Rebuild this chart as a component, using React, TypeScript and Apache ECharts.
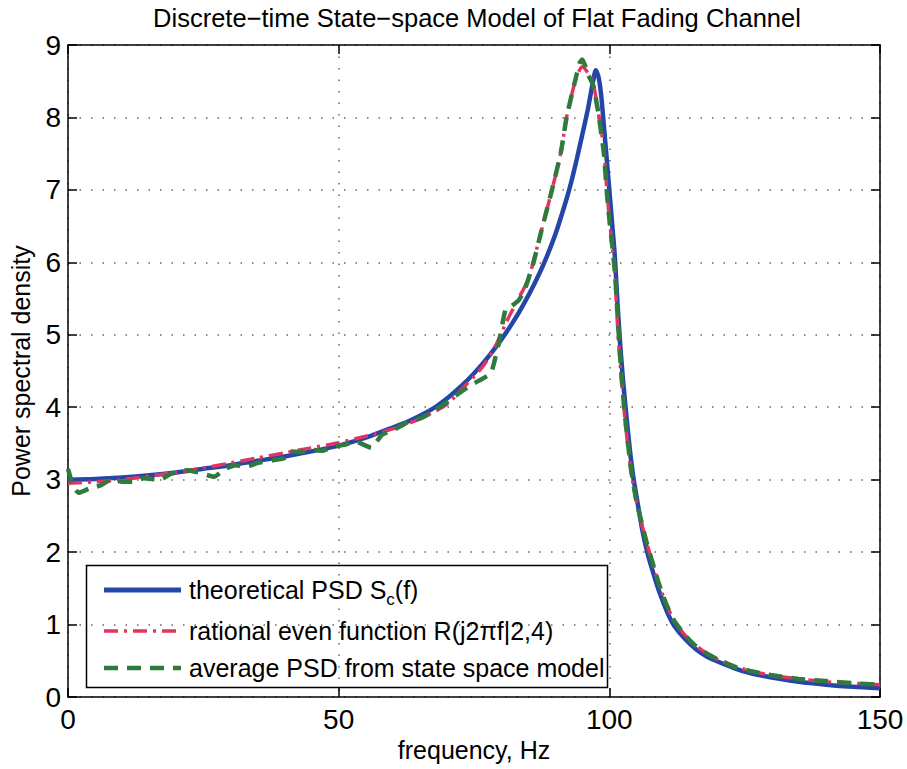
import React, { useEffect, useRef } from "react";
import * as echarts from "echarts";

const FONT = '"Liberation Sans", Arial, Helvetica, sans-serif';

const titleText = "Discrete\u2212time State\u2212space Model of Flat Fading Channel";
const xAxisLabel = "frequency, Hz";
const yAxisLabel = "Power spectral density";
const legendLabels = [
  "theoretical PSD S",
  "rational even function R(j2\u03c0f|2,4)",
  "average PSD from state space model",
];

const xMin = 0;
const xMax = 150;
const xStep = 50;
const yMin = 0;
const yMax = 9;
const yStep = 1;

// theoretical PSD S_c(f)
const blueFreq = [0, 5, 10, 15, 20, 25, 30, 35, 40, 45, 50, 55, 60, 63, 66, 68, 70, 72, 74, 76, 78, 80, 82, 84, 86, 88, 90, 92, 93, 94, 95, 96, 96.5, 97, 97.5, 98, 98.5, 99, 99.5, 100, 100.5, 101, 101.5, 102, 102.5, 103, 103.5, 104, 104.5, 105, 106, 107, 108, 109, 110, 111, 112, 114, 116, 118, 120, 123, 126, 130, 135, 140, 145, 150];
const bluePsd = [3.0, 3.01, 3.03, 3.06, 3.1, 3.15, 3.2, 3.26, 3.32, 3.39, 3.47, 3.58, 3.72, 3.81, 3.92, 4.01, 4.12, 4.25, 4.39, 4.55, 4.73, 4.93, 5.15, 5.4, 5.68, 6.0, 6.38, 6.85, 7.12, 7.43, 7.76, 8.1, 8.3, 8.5, 8.65, 8.56, 8.3, 7.88, 7.44, 7.0, 6.55, 6.1, 5.45, 4.87, 4.4, 4.0, 3.62, 3.28, 3.0, 2.78, 2.34, 2.0, 1.74, 1.5, 1.3, 1.12, 0.98, 0.8, 0.66, 0.56, 0.49, 0.4, 0.33, 0.27, 0.21, 0.17, 0.14, 0.12];

// rational even function R(j2πf|2,4)
const redFreq = [0, 5, 10, 15, 20, 25, 30, 35, 40, 45, 50, 55, 60, 65, 70, 73, 75, 77, 79, 81, 83, 85, 86, 87.5, 89.4, 91, 92.1, 93, 94, 95, 96, 97, 98, 99, 99.5, 100, 100.5, 101, 101.5, 102, 102.5, 103, 103.5, 104, 105, 106, 107, 108, 109, 110, 111, 112, 114, 116, 118, 120, 123, 126, 130, 135, 140, 145, 150];
const redPsd = [2.95, 2.97, 3.0, 3.05, 3.1, 3.16, 3.23, 3.3, 3.37, 3.44, 3.51, 3.6, 3.7, 3.84, 4.04, 4.27, 4.42, 4.6, 4.85, 5.18, 5.47, 5.76, 6.02, 6.45, 7.0, 7.5, 8.0, 8.3, 8.57, 8.7, 8.62, 8.48, 8.05, 7.55, 7.05, 6.6, 6.25, 5.85, 5.15, 4.6, 4.15, 3.75, 3.42, 3.12, 2.7, 2.38, 2.1, 1.85, 1.6, 1.38, 1.2, 1.05, 0.85, 0.71, 0.6, 0.52, 0.43, 0.36, 0.3, 0.25, 0.21, 0.19, 0.17];

// average PSD from state space model
const greenFreq = [0, 1, 2, 4, 6, 8, 10, 12, 14, 17, 19, 22, 24, 27, 29, 31, 33, 35, 38, 40, 41, 43, 45, 47, 49, 51, 53, 55, 56, 58, 60, 62.4, 65.5, 68, 69.8, 72, 74.1, 76, 78.1, 79, 79.6, 80.8, 82, 83.3, 84.5, 86, 87.5, 89.4, 91, 92.1, 93.5, 94.5, 95, 95.5, 96, 97, 98, 99, 99.5, 100, 101, 101.5, 102, 102.5, 103, 104, 105, 106, 107, 108, 109, 110, 111, 112, 114, 116, 118, 120, 123, 126, 130, 135, 140, 145, 150];
const greenPsd = [3.15, 2.9, 2.82, 2.88, 2.92, 3.0, 2.97, 2.97, 3.02, 3.0, 3.08, 3.13, 3.1, 3.04, 3.15, 3.2, 3.18, 3.23, 3.27, 3.3, 3.39, 3.38, 3.41, 3.4, 3.46, 3.48, 3.53, 3.47, 3.44, 3.62, 3.68, 3.78, 3.86, 3.97, 4.06, 4.18, 4.29, 4.37, 4.47, 4.7, 4.89, 5.34, 5.4, 5.48, 5.65, 6.0, 6.45, 7.0, 7.5, 8.0, 8.45, 8.75, 8.8, 8.72, 8.6, 8.45, 8.05, 7.5, 7.0, 6.6, 5.9, 5.3, 4.7, 4.2, 3.8, 3.15, 2.7, 2.4, 2.1, 1.85, 1.6, 1.38, 1.2, 1.05, 0.85, 0.7, 0.6, 0.52, 0.42, 0.36, 0.3, 0.25, 0.22, 0.19, 0.17];

const BLUE = "#2446a8";
const RED = "#e0355f";
const GREEN = "#2f7a3c";

const zip = (xs: number[], ys: number[]) => xs.map((x, i) => [x, ys[i]]);

function measure(text: string, size: number): number {
  const ctx = document.createElement("canvas").getContext("2d");
  if (!ctx) return text.length * size * 0.5;
  ctx.font = `${size}px "Liberation Sans", Arial, sans-serif`;
  return ctx.measureText(text).width;
}

export default function App() {
  const ref = useRef<HTMLDivElement>(null);
  useEffect(() => {
    if (!ref.current) return;
    const chart = echarts.init(ref.current, null, { renderer: "svg" });

    const axisLine = { show: true, onZero: false, lineStyle: { color: "#000", width: 1.5 } };
    const axisTick = { show: true, inside: true, length: 9, lineStyle: { color: "#000", width: 1.5 } };
    const gridLine = { show: true, lineStyle: { type: [1.5, 10] as any, color: "#666", width: 1.5 } };
    const tickFont = { fontSize: 28, color: "#000", fontFamily: FONT };
    const nameFont = { fontSize: 25, color: "#000", fontFamily: FONT };

    // legend layout
    const lgLeft = 86.5;
    const lgTop = 565.5;
    const lgW = 521;
    const lgH = 122;
    const rows = [590, 631, 668];
    const lineX1 = 104;
    const lineX2 = 181;
    const textX = 189;
    const legendFont = 25;
    const subW = measure(legendLabels[0], legendFont);
    const cW = measure("c", 17);

    const textStyle = (text: string, x: number, y: number, size: number, align = "left") => ({
      text,
      x,
      y,
      fontSize: size,
      fontFamily: FONT,
      fill: "#000",
      align,
      verticalAlign: "middle",
    });

    const option: any = {
      animation: false,
      backgroundColor: "#fff",
      grid: { left: 68, right: 27, top: 45, bottom: 72, containLabel: false },
      xAxis: [
        {
          type: "value",
          min: xMin,
          max: xMax,
          interval: xStep,
          position: "bottom",
          axisLine,
          axisTick,
          axisLabel: { ...tickFont, margin: 8 },
          splitLine: gridLine,
          name: xAxisLabel,
          nameLocation: "middle",
          nameGap: 38,
          nameTextStyle: nameFont,
        },
        {
          type: "value",
          min: xMin,
          max: xMax,
          interval: xStep,
          position: "top",
          axisLine,
          axisTick,
          axisLabel: { show: false },
          splitLine: { show: false },
        },
      ],
      yAxis: [
        {
          type: "value",
          min: yMin,
          max: yMax,
          interval: yStep,
          position: "left",
          axisLine,
          axisTick,
          axisLabel: { ...tickFont, margin: 7 },
          splitLine: gridLine,
          name: yAxisLabel,
          nameLocation: "middle",
          nameGap: 35,
          nameTextStyle: nameFont,
        },
        {
          type: "value",
          min: yMin,
          max: yMax,
          interval: yStep,
          position: "right",
          axisLine,
          axisTick,
          axisLabel: { show: false },
          splitLine: { show: false },
        },
      ],
      series: [
        {
          name: "theoretical",
          type: "line",
          data: zip(blueFreq, bluePsd),
          showSymbol: false,
          smooth: 0.25,
          lineStyle: { color: BLUE, width: 4.5 },
          z: 3,
        },
        {
          name: "rational",
          type: "line",
          data: zip(redFreq, redPsd),
          showSymbol: false,
          smooth: 0.25,
          lineStyle: { color: RED, width: 3.5, type: [14, 6, 3, 6] },
          z: 4,
        },
        {
          name: "average",
          type: "line",
          data: zip(greenFreq, greenPsd),
          showSymbol: false,
          smooth: 0.15,
          lineStyle: { color: GREEN, width: 4.5, type: [14, 9] },
          z: 5,
        },
      ],
      graphic: [
        {
          type: "text",
          x: 0,
          y: 0,
          style: textStyle(titleText, 477, 18, 25.5, "center"),
        },
        {
          type: "group",
          z: 100,
          children: [
            {
              type: "rect",
              shape: { x: lgLeft, y: lgTop, width: lgW, height: lgH },
              style: { fill: "#fff", stroke: "#000", lineWidth: 1.5 },
            },
            {
              type: "line",
              shape: { x1: lineX1, y1: rows[0], x2: lineX2, y2: rows[0] },
              style: { stroke: BLUE, lineWidth: 5 },
            },
            {
              type: "line",
              shape: { x1: lineX1, y1: rows[1], x2: lineX2, y2: rows[1] },
              style: { stroke: RED, lineWidth: 3.5, lineDash: [14, 6, 3, 6] },
            },
            {
              type: "line",
              shape: { x1: lineX1, y1: rows[2], x2: lineX2, y2: rows[2] },
              style: { stroke: GREEN, lineWidth: 4.5, lineDash: [14, 9] },
            },
            { type: "text", style: textStyle(legendLabels[0], textX, rows[0], legendFont) },
            { type: "text", style: textStyle("c", textX + subW, rows[0] + 9, 17) },
            { type: "text", style: textStyle("(f)", textX + subW + cW, rows[0], legendFont) },
            { type: "text", style: textStyle(legendLabels[1], textX, rows[1], legendFont) },
            { type: "text", style: textStyle(legendLabels[2], textX, rows[2], legendFont) },
          ],
        },
      ],
    };

    chart.setOption(option);
    return () => chart.dispose();
  }, []);

  return (
    <div
      ref={ref}
      style={{ position: "absolute", left: 0, top: 0, width: 907, height: 769, background: "#fff" }}
    />
  );
}
